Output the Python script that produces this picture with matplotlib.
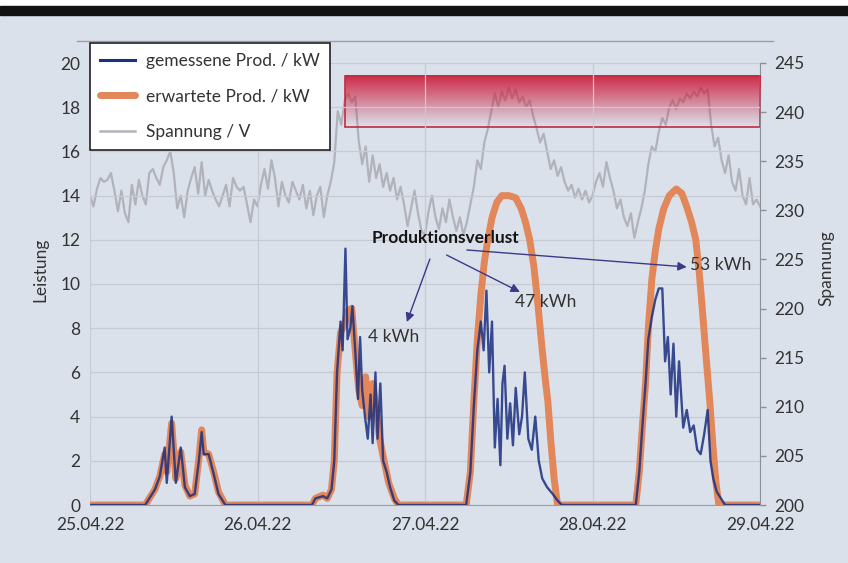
import matplotlib
matplotlib.use('Agg')
import matplotlib.pyplot as plt
import numpy as np
from matplotlib.lines import Line2D
from matplotlib.patches import Rectangle

plt.rcParams['font.family'] = ['Lato', 'DejaVu Sans']

# ---------------- data ----------------
day_labels = ['25.04.22', '26.04.22', '27.04.22', '28.04.22', '29.04.22']
day_hours = [0, 24, 48, 72, 96]

# voltage (V), half-hourly from 25.04.22 00:00
voltage_v = [
    231.5, 230.4, 232.2, 233.3, 232.9, 233.1, 233.8, 232.0, 229.9, 232.0, 229.7, 228.8,
    232.6, 230.6, 233.1, 231.5, 230.6, 233.8, 234.2, 233.3, 232.6, 234.4, 235.1, 236.0,
    233.8, 230.2, 231.5, 229.3, 232.0, 233.3, 234.4, 231.7, 234.9, 231.5, 233.1, 232.0,
    231.1, 230.4, 231.5, 232.6, 230.4, 233.3, 232.4, 232.0, 232.4, 230.6, 228.8, 231.1,
    # 26.04
    230.4, 232.6, 234.2, 232.2, 235.1, 233.3, 230.4, 232.9, 231.5, 230.8, 232.9, 232.0,
    231.1, 232.6, 230.2, 232.0, 229.5, 231.5, 232.4, 229.3, 231.5, 232.9, 234.9, 240.1,
    238.7, 241.2, 241.9, 241.0, 241.6, 237.1, 234.7, 236.5, 232.9, 235.6, 233.3, 234.7,
    232.4, 233.8, 232.0, 233.3, 231.1, 232.4, 230.6, 228.4, 230.2, 232.0, 229.7, 227.9,
    # 27.04
    227.5, 229.9, 231.5, 229.3, 228.1, 230.2, 228.8, 231.1, 229.3, 227.9, 229.3, 227.5,
    228.8, 230.6, 232.4, 235.1, 234.2, 236.9, 238.3, 240.1, 241.9, 240.5, 242.1, 241.2,
    242.5, 241.4, 242.3, 241.0, 241.6, 240.5, 241.2, 239.6, 238.3, 236.9, 237.8, 236.0,
    234.2, 235.1, 233.5, 234.4, 232.9, 232.0, 232.6, 231.3, 232.2, 231.1, 232.0, 230.8,
    # 28.04
    231.5, 232.9, 233.8, 232.4, 234.9, 233.3, 232.0, 230.2, 231.1, 229.3, 228.4, 229.7,
    227.2, 228.8, 230.2, 232.0, 234.7, 236.5, 236.0, 238.0, 239.4, 238.7, 240.5, 241.2,
    240.3, 241.4, 241.0, 241.9, 241.4, 242.1, 241.6, 242.5, 241.9, 242.3, 238.7, 236.5,
    237.4, 235.1, 233.8, 235.6, 232.9, 232.0, 234.2, 231.5, 230.6, 233.3, 230.6, 231.1,
    230.4,
]
voltage_h = np.arange(len(voltage_v)) * 0.5

# expected production (kW)
expected_h = [0, 7.9, 8.6, 9.3, 10.0, 10.7, 11.0, 11.7, 12.3, 13.0, 13.6, 14.3, 15.0, 15.6, 16.0,
              16.3, 17.0, 17.8, 18.4, 19.4,
              31.8, 32.3, 33.4, 34.0, 34.6, 35.0, 35.4, 35.9, 36.5, 37.0, 37.5, 38.0, 38.5, 39.0,
              39.5, 40.0, 40.5, 41.0, 41.5, 42.0, 42.8, 43.6, 44.2,
              53.9, 54.5, 55.0, 55.5, 56.0, 56.5, 57.0, 57.6, 58.3, 59.0, 60.0, 61.0, 61.8, 62.4,
              63.0, 63.6, 64.2, 64.8, 65.3, 65.6, 66.0, 66.5, 67.0,
              78.2, 78.7, 79.2, 79.6, 80.0, 80.5, 81.0, 81.5, 82.2, 83.0, 84.0, 84.8, 85.5, 86.2,
              86.8, 87.3, 87.7, 88.2, 88.8, 89.3, 89.7, 90.1, 96]
expected_kw = [0, 0, 0.35, 0.7, 1.3, 2.3, 1.5, 3.7, 1.2, 2.4, 0.9, 0.4, 0.5, 2.1, 3.4,
               2.4, 2.3, 1.4, 0.6, 0,
               0, 0.3, 0.45, 0.3, 0.7, 2.0, 6.0, 7.8, 8.2, 8.8, 8.9, 7.0, 5.2, 4.5,
               5.8, 4.0, 5.5, 4.3, 3.0, 2.2, 1.0, 0.3, 0,
               0, 1.5, 4.7, 7.5, 9.5, 11.0, 12.0, 13.0, 13.7, 14.0, 14.0, 13.9, 13.4, 12.8,
               12.0, 10.8, 9.0, 7.0, 5.5, 4.7, 3.0, 1.2, 0,
               0, 1.5, 3.8, 5.5, 8.0, 10.2, 11.5, 12.5, 13.4, 14.0, 14.3, 14.1, 13.5, 12.8,
               12.0, 10.5, 9.0, 7.0, 4.7, 2.5, 1.0, 0, 0]

# measured production (kW)
measured_h = [0, 7.9, 8.6, 9.3, 10.0, 10.7, 11.0, 11.7, 12.3, 13.0, 13.6, 14.3, 15.0, 15.6, 16.0,
              16.3, 17.0, 17.8, 18.4, 19.4,
              31.8, 32.3, 33.4, 34.0, 34.6, 35.0, 35.4, 35.9, 36.2, 36.6, 36.9, 37.3, 37.6, 38.0,
              38.4, 38.7, 39.0, 39.4, 39.8, 40.2, 40.5, 40.9, 41.2, 41.6, 42.0, 42.5, 43.0, 43.6, 44.2,
              53.9, 54.5, 55.0, 55.5, 56.0, 56.4, 56.8, 57.2, 57.6, 58.0, 58.4, 58.8, 59.1, 59.4,
              59.8, 60.2, 60.6, 61.0, 61.5, 61.9, 62.3, 62.8, 63.3, 63.8, 64.3, 64.8, 65.5, 66.3,
              67.0, 67.6,
              78.2, 78.7, 79.2, 79.6, 80.0, 80.5, 81.0, 81.5, 82.0, 82.4, 82.8, 83.2, 83.6, 84.0,
              84.4, 85.0, 85.5, 86.0, 86.5, 87.0, 87.5, 88.0, 88.5, 88.9, 89.3, 89.8, 90.4, 91.0, 96]
measured_kw = [0, 0, 0.35, 0.7, 1.3, 2.6, 1.0, 4.0, 1.0, 2.6, 0.8, 0.4, 0.5, 2.0, 3.3,
               2.3, 2.3, 1.3, 0.5, 0,
               0, 0.3, 0.4, 0.3, 0.7, 2.0, 6.0, 8.3, 7.0, 11.6, 7.5, 8.0, 9.0, 7.0,
               4.8, 7.6, 5.2, 4.0, 3.0, 5.0, 2.8, 6.0, 3.0, 5.5, 2.0, 1.5, 0.8, 0.2, 0,
               0, 1.5, 4.5, 7.0, 8.3, 7.0, 9.7, 6.0, 8.3, 2.6, 4.8, 1.8, 5.5, 6.3,
               3.0, 4.6, 2.7, 5.3, 3.2, 4.0, 6.0, 3.0, 2.5, 4.0, 2.0, 1.2, 0.8, 0.5,
               0.2, 0,
               0, 1.5, 3.8, 5.5, 7.5, 8.5, 9.3, 9.8, 9.8, 6.5, 7.6, 5.0, 7.3, 4.0,
               6.5, 3.5, 4.3, 3.3, 3.6, 2.5, 2.3, 3.2, 4.3, 2.0, 1.2, 0.6, 0.3, 0, 0]

# critical voltage band (V) and its start time (h)
band_v = [238.5, 243.7]
band_start_h = 36.5

# annotations
loss_title = 'Produktionsverlust'
loss_labels = ['4 kWh', '47 kWh', '53 kWh']
loss_text_h = [39.8, 60.9, 86.0]
loss_text_kw = [7.6, 9.2, 10.85]
arrow_start_h = [48.7, 51.1, 54.0]
arrow_start_kw = [11.13, 11.31, 11.54]
arrow_end_h = [45.4, 61.6, 85.5]
arrow_end_kw = [8.28, 9.64, 10.77]

# ---------------- figure ----------------
W, H = 848, 563
fig = plt.figure(figsize=(W / 100, H / 100), dpi=100, facecolor='#dbe1eb')


def fx(x):
    return x / W


def fy(y):
    return 1 - y / H


fig.patches.append(Rectangle((0, fy(6)), 1, 6 / H, transform=fig.transFigure,
                             color='white', zorder=0))
fig.patches.append(Rectangle((0, fy(15)), 1, 9 / H, transform=fig.transFigure,
                             color='#121212', zorder=0))
fig.add_artist(Line2D([fx(77), fx(773)], [fy(41), fy(41)], color='#9c9ea6', lw=1.0,
                      transform=fig.transFigure))

ax = fig.add_axes([fx(90), fy(505), fx(760) - fx(90), fy(63) - fy(505)])
ax2 = ax.twinx()
ax.set_zorder(ax2.get_zorder() + 1)
ax.patch.set_visible(False)
ax2.patch.set_facecolor('white')

TXT = '#333333'
BLUE = '#1a3080'
ORANGE = '#e2875a'
GRAY = '#b2b2ba'

# voltage
ax2.plot(voltage_h, voltage_v, color=GRAY, lw=1.6, zorder=2)

# band with gradient
grad = np.zeros((100, 2, 4))
grad[..., 0] = 0.80
grad[..., 1] = 0.10
grad[..., 2] = 0.22
grad[..., 3] = np.linspace(0.92, 0.0, 100)[:, None]
ax2.imshow(grad, extent=[band_start_h, 96, band_v[0], band_v[1]], aspect='auto',
           origin='upper', interpolation='bilinear', zorder=3)
ax2.add_patch(Rectangle((band_start_h, band_v[0]), 96 - band_start_h, band_v[1] - band_v[0],
                        fill=False, edgecolor='#c42a40', lw=1.2, zorder=4))

# production
ax.plot(expected_h, expected_kw, color=ORANGE, lw=5.0, solid_capstyle='round',
        solid_joinstyle='round', zorder=3)
ax.plot(measured_h, measured_kw, color=BLUE, lw=1.7, alpha=0.85, zorder=4)

# annotations
for sh, sk, eh, ek in zip(arrow_start_h, arrow_start_kw, arrow_end_h, arrow_end_kw):
    ax.annotate('', xy=(eh, ek), xytext=(sh, sk),
                arrowprops=dict(arrowstyle='-|>', color='#3a3a88', lw=1.0,
                                mutation_scale=13, shrinkA=0, shrinkB=0), zorder=6)
for t, h, k in zip(loss_labels, loss_text_h, loss_text_kw):
    ax.text(h, k, t, ha='left', va='center', fontsize=12.5, color=TXT, zorder=6)
ax.text(50.9, 12.08, loss_title, ha='center', va='center', fontsize=12.5,
        fontweight='bold', color='#151515', zorder=6)

# axes
ax.set_xlim(0, 96)
ax.set_ylim(0, 20)
ax2.set_ylim(200, 245)
ax2.set_xlim(0, 96)
ax.set_xticks(day_hours)
ax.set_xticklabels(day_labels)
ax.set_yticks(np.arange(0, 21, 2))
ax2.set_yticks(np.arange(200, 246, 5))
ax.grid(True, color='#c8cad3', lw=0.9, zorder=0)

for s in ['top', 'left', 'right']:
    ax.spines[s].set_visible(False)
ax.spines['bottom'].set_color('#9a9ca4')
for s in ['top', 'left', 'bottom']:
    ax2.spines[s].set_visible(False)
ax2.spines['right'].set_color('#8e9098')

ax.tick_params(axis='y', length=0, pad=7, labelsize=12.5, labelcolor=TXT)
ax.tick_params(axis='x', length=0, pad=9, labelsize=12.5, labelcolor=TXT)
ax2.tick_params(axis='y', length=4, width=1, color='#8e9098', pad=6, labelsize=12.5,
                labelcolor=TXT)

ax.set_ylabel('Leistung', fontsize=12.5, color=TXT)
ax.yaxis.set_label_coords((48 - 90) / 670, (505 - 270) / 442)
ax2.set_ylabel('Spannung', fontsize=12.5, color=TXT)
ax2.yaxis.set_label_coords((818 - 90) / 670, (505 - 268) / 442)

handles = [Line2D([], [], color=BLUE, lw=2.2),
           Line2D([], [], color=ORANGE, lw=5.0, solid_capstyle='round'),
           Line2D([], [], color=GRAY, lw=1.8)]
labels = ['gemessene Prod. / kW', 'erwartete Prod. / kW', 'Spannung / V']
leg = fig.legend(handles, labels, loc='upper left', bbox_to_anchor=(fx(90), fy(43)),
                 frameon=True, fancybox=False, edgecolor='#222222', facecolor='white',
                 framealpha=1, fontsize=12.5, handlelength=2.0, handletextpad=0.6,
                 labelspacing=1.1, borderpad=0.6, borderaxespad=0)
leg.get_frame().set_linewidth(1.2)
for t in leg.get_texts():
    t.set_color(TXT)

fig.savefig('out.png', dpi=100, facecolor=fig.get_facecolor())
